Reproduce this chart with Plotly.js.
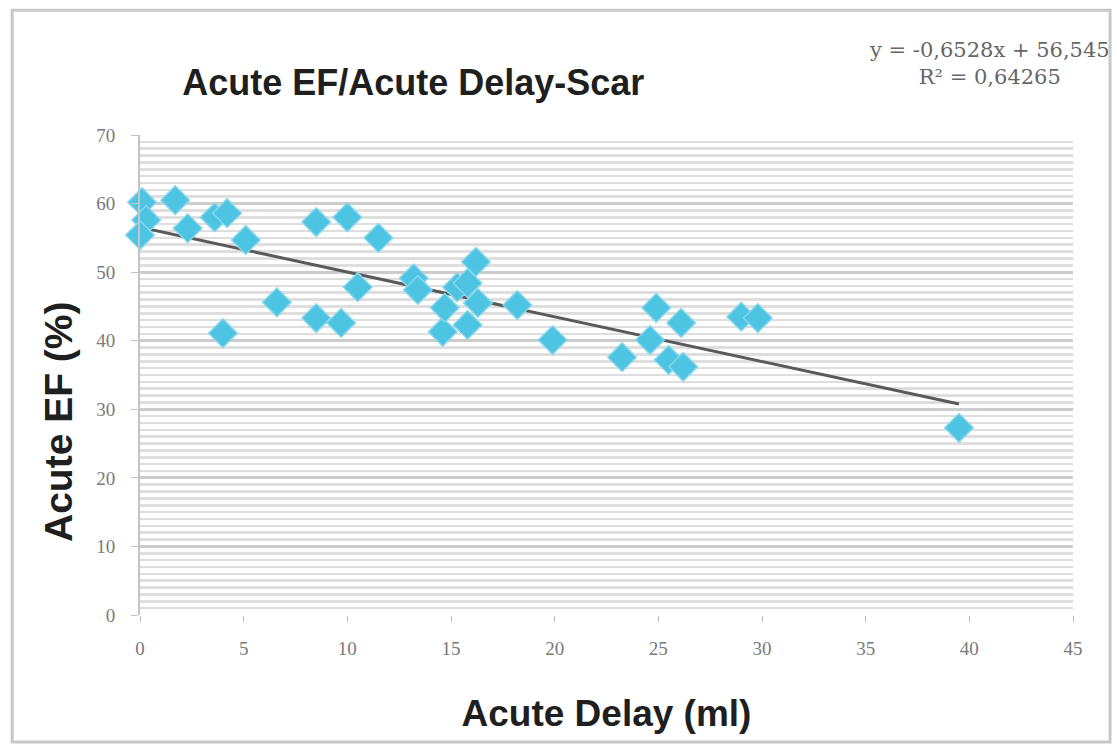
<!DOCTYPE html>
<html>
<head>
<meta charset="utf-8">
<script src="https://cdn.plot.ly/plotly-3.0.1.min.js"></script>
<style>html,body{margin:0;padding:0;background:#fff;}#chart{width:1117px;height:749px;}</style>
</head>
<body>
<div id="chart"></div>
<script>
const delayX = [0.1, 0.3, 0.0, 1.7, 2.3, 3.6, 4.2, 5.1, 4.0, 6.6, 8.5, 9.7, 8.5, 10.0, 11.5, 10.5, 13.2, 13.4, 14.6, 14.7, 15.3, 15.8, 16.2, 16.3, 15.8, 18.2, 19.9, 23.25, 24.9, 24.6, 26.1, 25.5, 26.2, 29.0, 29.8, 39.5];
const efY    = [60.2, 57.6, 55.4, 60.5, 56.4, 58.0, 58.6, 54.7, 41.1, 45.6, 43.3, 42.6, 57.3, 58.0, 55.0, 47.8, 49.1, 47.4, 41.3, 44.8, 47.8, 48.4, 51.5, 45.5, 42.3, 45.2, 40.1, 37.6, 44.8, 40.1, 42.6, 37.2, 36.2, 43.5, 43.3, 27.3];
const trendSlope = -0.6528;
const trendIntercept = 56.545;
const rSquared = 0.64265;
const xTicks = [0, 5, 10, 15, 20, 25, 30, 35, 40, 45];
const yTicks = [0, 10, 20, 30, 40, 50, 60, 70];

const xMin = Math.min(...delayX), xMax = Math.max(...delayX);
const trendX = [xMin, xMax];
const trendY = trendX.map(v => trendSlope * v + trendIntercept);

const fmt = v => String(v).replace('.', ',');
const eqText = 'y = ' + fmt(trendSlope) + 'x + ' + fmt(trendIntercept) + '<br>R² = ' + fmt(rSquared);

const data = [
  {x: trendX, y: trendY, type: 'scatter', mode: 'lines', line: {color: '#5a5a5a', width: 3}, hoverinfo: 'skip', showlegend: false},
  {x: delayX, y: efY, type: 'scatter', mode: 'markers', cliponaxis: false,
   marker: {symbol: 'diamond', size: 22, color: '#4cc4e2', line: {color: '#86d6ec', width: 1.5}}, showlegend: false}
];

const tickFont = {family: '"Liberation Serif", "DejaVu Serif", serif', size: 19, color: '#7a7a7a'};
const boldFont = '"Liberation Sans", Arial, sans-serif';

const layout = {
  width: 1117, height: 749,
  margin: {l: 140, r: 44, t: 135, b: 134},
  paper_bgcolor: '#ffffff', plot_bgcolor: '#ffffff',
  title: {text: '<b>Acute EF/Acute Delay-Scar</b>', x: 0.37, xanchor: 'center', y: 0.89, yanchor: 'middle',
          font: {family: boldFont, size: 36, color: '#1f1f1f'}},
  xaxis: {range: [0, 45], tickvals: xTicks, ticktext: xTicks.map(String), showgrid: false, zeroline: false,
          showline: false, ticks: 'outside', ticklen: 6, tickcolor: '#bbbbbb', tickfont: tickFont, ticklabelstandoff: 10,
          title: {text: '<b>Acute Delay (ml)</b>', standoff: 42, font: {family: boldFont, size: 37, color: '#1f1f1f'}}},
  yaxis: {range: [0, 70], tickvals: yTicks, ticktext: yTicks.map(String), showgrid: true, gridcolor: '#cccccc', gridwidth: 3,
          zeroline: false, showline: true, linecolor: '#c4c4c4', linewidth: 2, ticks: 'outside', ticklen: 7, tickcolor: '#c4c4c4',
          tickfont: tickFont, ticklabelstandoff: 12,
          minor: {dtick: 1, showgrid: true, gridcolor: '#dedede', gridwidth: 2.5}},
  annotations: [
    {text: eqText, xref: 'paper', yref: 'paper', x: 0.911, y: 1.149, xanchor: 'center', yanchor: 'middle', showarrow: false,
     align: 'center', font: {family: '"DejaVu Serif", "Liberation Serif", serif', size: 21, color: '#666666'}},
    {text: '<b>Acute EF (%)</b>', xref: 'paper', yref: 'paper', x: (58 - 140) / 933, y: (615 - 422) / 480,
     xanchor: 'center', yanchor: 'middle', textangle: -90, showarrow: false,
     font: {family: boldFont, size: 39, color: '#1f1f1f'}}
  ],
  shapes: [
    {type: 'rect', xref: 'paper', yref: 'paper', x0: -0.137, x1: 1.0397, y0: -0.2646, y1: 1.260,
     line: {color: '#c8c8c8', width: 3}, fillcolor: 'rgba(0,0,0,0)', layer: 'below'}
  ]
};

Plotly.newPlot('chart', data, layout, {displayModeBar: false, staticPlot: true});
</script>
</body>
</html>
